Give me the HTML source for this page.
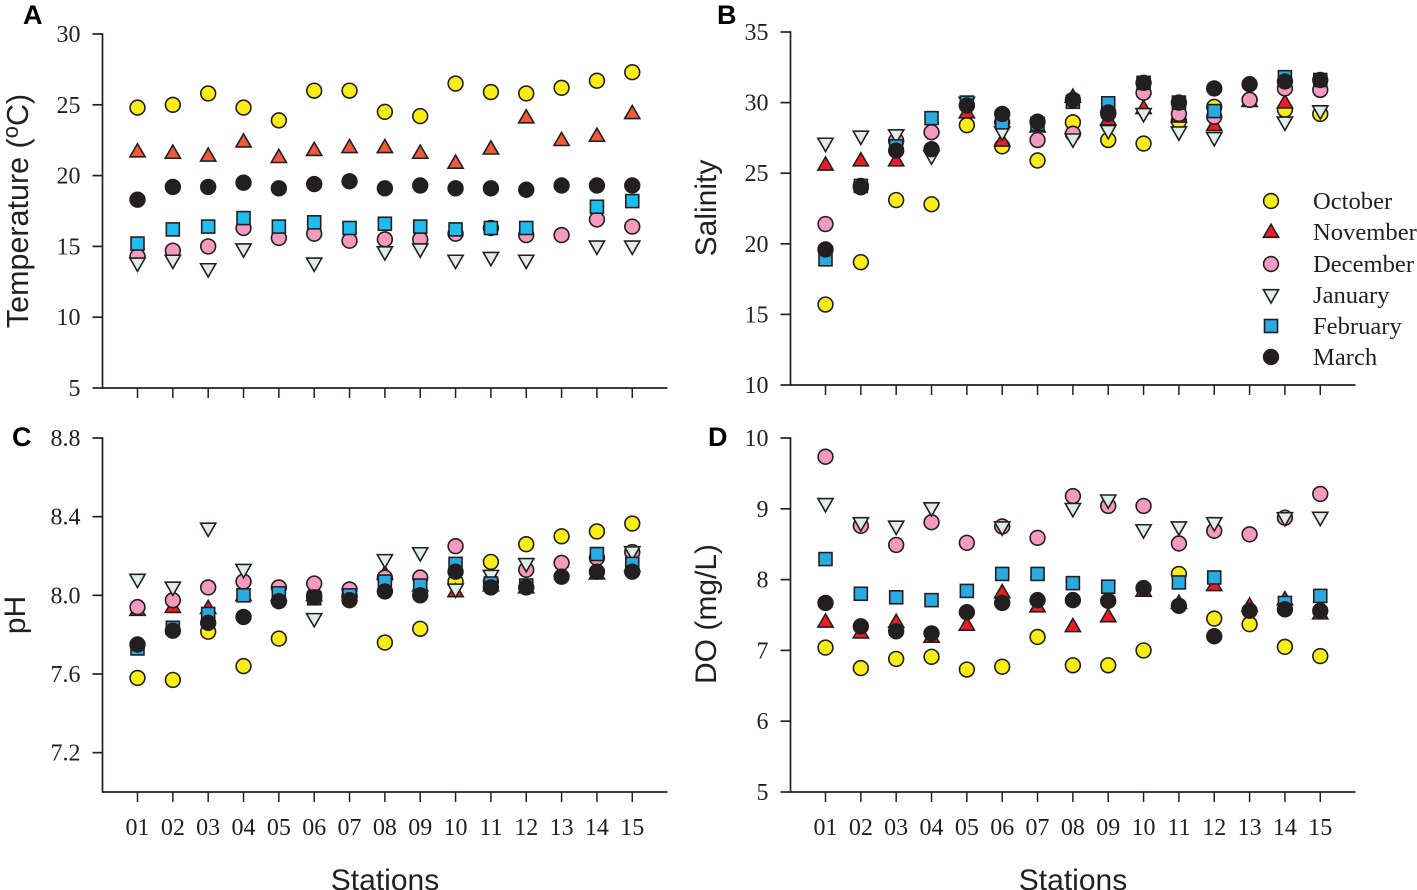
<!DOCTYPE html>
<html lang="en">
<head>
<meta charset="utf-8">
<title>Monthly water quality by station</title>
<style>
html,body{margin:0;padding:0;background:#fff;}
body{width:1417px;height:890px;overflow:hidden;}
svg{display:block;}
.serif{font-family:"Liberation Serif",serif;fill:#231f20;}
.sans{font-family:"Liberation Sans",sans-serif;fill:#231f20;}
.title{font-size:30px;}
.letter{font-size:27px;font-weight:bold;fill:#000;}
.legend-text{font-size:24.6px;}
</style>
</head>
<body>
<svg id="chart" xmlns="http://www.w3.org/2000/svg" width="1417" height="890" viewBox="0 0 1417 890">
  <text class="sans letter" x="23" y="24">A</text>
  <text class="sans letter" x="717" y="24">B</text>
  <text class="sans letter" x="12" y="446">C</text>
  <text class="sans letter" x="708" y="446">D</text>

  <text class="sans title" style="font-size:30.5px" text-anchor="middle" transform="translate(28,211) rotate(-90)">Temperature (<tspan font-size="22" dy="-10">o</tspan><tspan dy="10">C)</tspan></text>
  <text class="sans title" text-anchor="middle" transform="translate(716,208) rotate(-90)">Salinity</text>
  <text class="sans title" text-anchor="middle" transform="translate(25,615) rotate(-90)">pH</text>
  <text class="sans title" text-anchor="middle" transform="translate(716,614) rotate(-90)">DO (mg/L)</text>

  <text class="sans title" text-anchor="middle" x="385" y="890">Stations</text>
  <text class="sans title" text-anchor="middle" x="1073" y="890">Stations</text>

  <g id="panels"></g>

  <g id="legend">
    <text class="serif legend-text" x="1313" y="209">October</text>
    <text class="serif legend-text" x="1313" y="240">November</text>
    <text class="serif legend-text" x="1313" y="272">December</text>
    <text class="serif legend-text" x="1313" y="303">January</text>
    <text class="serif legend-text" x="1313" y="334">February</text>
    <text class="serif legend-text" x="1313" y="365">March</text>
  </g>
</svg>
<script>
const stations = ['01','02','03','04','05','06','07','08','09','10','11','12','13','14','15'];
const months = ['october','november','december','january','february','march'];

const tempTicks = [5,10,15,20,25,30];
const salinityTicks = [10,15,20,25,30,35];
const phTicks = ['7.2','7.6','8.0','8.4','8.8'];
const doTicks = [5,6,7,8,9,10];

const tempOctober  = [24.8,25.0,25.8,24.8,23.9,26.0,26.0,24.5,24.2,26.5,25.9,25.8,26.2,26.7,27.3];
const tempNovember = [21.7,21.6,21.4,22.4,21.3,21.8,22.0,22.0,21.6,20.9,21.9,24.1,22.5,22.8,24.4];
const tempDecember = [14.3,14.7,15.0,16.3,15.6,15.9,15.4,15.5,15.5,15.9,16.3,15.8,15.8,16.9,16.4];
const tempJanuary  = [13.8,14.0,13.4,14.8,null,13.8,null,14.6,14.8,14.0,14.2,14.0,null,15.0,15.0];
const tempFebruary = [15.2,16.2,16.4,17.0,16.4,16.7,16.3,16.6,16.4,16.2,16.3,16.3,null,17.8,18.2];
const tempMarch    = [18.3,19.2,19.2,19.5,19.1,19.4,19.6,19.1,19.3,19.1,19.1,19.0,19.3,19.3,19.3];

const salOctober  = [15.7,18.7,23.1,22.8,28.4,26.9,25.9,28.6,27.35,27.1,28.7,29.7,30.2,29.5,29.2];
const salNovember = [25.6,25.9,25.9,null,29.3,27.3,28.3,30.4,28.8,29.6,29.0,28.4,30.1,30.0,null];
const salDecember = [21.4,24.1,27.3,27.9,29.8,28.6,27.35,27.8,29.2,30.7,29.2,29.0,30.2,31.0,30.9];
const salJanuary  = [27.1,27.6,27.7,26.2,30.0,27.9,null,27.4,28.0,29.2,27.9,27.5,null,28.6,29.4];
const salFebruary = [18.9,24.1,26.9,28.9,30.0,28.6,28.5,30.06,29.95,31.4,30.0,29.4,null,31.8,31.6];
const salMarch    = [19.6,24.0,26.6,26.7,29.8,29.2,28.65,30.2,29.3,31.4,30.0,31.0,31.3,31.5,31.6];

const phOctober  = [7.58,7.57,7.815,7.64,7.78,8.0,8.0,7.76,7.83,8.07,8.17,8.26,8.30,8.325,8.365];
const phNovember = [7.925,7.94,7.935,8.0,8.0,8.0,8.02,8.11,8.05,8.02,8.05,8.04,null,8.11,8.15];
const phDecember = [7.94,7.975,8.04,8.07,8.04,8.06,8.03,8.09,8.09,8.25,8.07,8.13,8.165,8.19,8.22];
const phJanuary  = [8.08,8.04,8.34,8.13,null,7.88,null,8.18,8.215,8.03,8.10,8.16,null,null,8.22];
const phFebruary = [7.73,7.835,7.905,8.0,8.01,7.985,8.0,8.07,8.05,8.16,8.06,8.05,null,8.21,8.16];
const phMarch    = [7.75,7.82,7.86,7.89,7.97,7.99,7.975,8.02,8.0,8.12,8.04,8.04,8.095,8.12,8.12];

const doOctober  = [7.04,6.75,6.88,6.91,6.73,6.77,7.19,6.79,6.79,7.0,8.08,7.45,7.37,7.05,6.92];
const doNovember = [7.405,7.25,7.4,7.19,7.36,7.82,7.62,7.34,7.48,7.84,7.67,7.92,7.63,7.72,7.52];
const doDecember = [9.735,8.76,8.49,8.81,8.52,8.75,8.59,9.18,9.04,9.04,8.51,8.69,8.64,8.875,9.21];
const doJanuary  = [9.07,8.8,8.75,9.01,null,8.74,null,9.0,9.12,8.7,8.74,8.8,null,8.87,8.875];
const doFebruary = [8.29,7.8,7.75,7.71,7.84,8.08,8.08,7.95,7.9,null,7.96,8.03,null,7.67,7.77];
const doMarch    = [7.67,7.34,7.27,7.24,7.54,7.67,7.71,7.71,7.7,7.88,7.63,7.2,7.56,7.58,7.56];

const INK = '#231f20';
const NS = 'http://www.w3.org/2000/svg';

function svgEl(tag, attrs, parent) {
  const el = document.createElementNS(NS, tag);
  for (const k in attrs) el.setAttribute(k, attrs[k]);
  parent.appendChild(el);
  return el;
}

function makeLinear(d0, d1, r0, r1) {
  return function (v) { return r0 + (v - d0) * (r1 - r0) / (d1 - d0); };
}

function drawMarker(month, cx, cy, colour, parent) {
  const base = { fill: colour, stroke: INK, 'stroke-width': 1.6, 'stroke-linejoin': 'miter' };
  let el;
  if (month === 'october' || month === 'december' || month === 'march') {
    el = svgEl('circle', Object.assign({ cx: cx, cy: cy, r: 7.4 }, base), parent);
  } else if (month === 'november') {
    el = svgEl('polygon', Object.assign({ points: [cx, cy - 7.8, cx + 7.6, cy + 5.3, cx - 7.6, cy + 5.3].join(' ') }, base), parent);
  } else if (month === 'january') {
    el = svgEl('polygon', Object.assign({ points: [cx - 7.6, cy - 5.3, cx + 7.6, cy - 5.3, cx, cy + 8].join(' ') }, base), parent);
  } else {
    el = svgEl('rect', Object.assign({ x: cx - 6.5, y: cy - 6.5, width: 13, height: 13 }, base), parent);
  }
  return el;
}

function drawPanel(cfg) {
  const root = document.getElementById('panels');
  const g = svgEl('g', {}, root);
  
  

  const x = makeLinear(0, stations.length - 1, cfg.x0, cfg.x0 + 14 * 35.34);
  const y = makeLinear(cfg.domain[0], cfg.domain[1], cfg.bottom, cfg.bottom - cfg.height);
  const top = y(cfg.yTicks.reduce(function (a, b) { return Math.max(a, +b); }, -Infinity));

  const yAxis = svgEl('line', { x1: cfg.axisX, x2: cfg.axisX, y1: top - 0.8, y2: cfg.bottom + 0.8, stroke: INK, 'stroke-width': 1.7 }, g);
  
  

  const xAxis = svgEl('line', { x1: cfg.axisX, x2: cfg.axisX + 565, y1: cfg.bottom, y2: cfg.bottom, stroke: INK, 'stroke-width': 1.7 }, g);
  
  

  cfg.yTicks.forEach(function (t) {
    const py = y(+t);
    const tick = svgEl('line', { x1: cfg.axisX - 10, x2: cfg.axisX, y1: py, y2: py, stroke: INK, 'stroke-width': 1.7 }, g);
    
    
    const label = svgEl('text', { x: cfg.axisX - 22, y: py + 8, 'text-anchor': 'end', 'font-size': 24, class: 'serif' }, g);
    
    
    label.textContent = t;
  });

  stations.forEach(function (s, i) {
    const tick = svgEl('line', { x1: x(i), x2: x(i), y1: cfg.bottom, y2: cfg.bottom + 10, stroke: INK, 'stroke-width': 1.5 }, g);
    
    
    if (cfg.showStations) {
      const label = svgEl('text', { x: x(i), y: cfg.bottom + 43, 'text-anchor': 'middle', 'font-size': 24, class: 'serif' }, g);
      
      
      label.textContent = s;
    }
  });

  months.forEach(function (m, mi) {
    const sg = svgEl('g', {}, g);
    
    
    cfg.series[mi].forEach(function (v, i) {
      if (v === null) return;
      const mark = drawMarker(m, x(i), y(v), cfg.colours[mi], sg);
      
      
    });
  });
}

const coloursA = ['#f9ed18','#ef5a3a','#f49ac1','#deeee6','#1fbcee','#231f20'];
const coloursB = ['#f9ed18','#ed1c24','#f49ac1','#deeee8','#29aae1','#231f20'];

drawPanel({ key: 'temperature', axisX: 102.5, x0: 137.5, bottom: 388, height: 354, domain: [5, 30], yTicks: tempTicks, showStations: false, colours: coloursA,
  series: [tempOctober, tempNovember, tempDecember, tempJanuary, tempFebruary, tempMarch] });
drawPanel({ key: 'salinity', axisX: 790.5, x0: 825.5, bottom: 385, height: 353, domain: [10, 35], yTicks: salinityTicks, showStations: false, colours: coloursB,
  series: [salOctober, salNovember, salDecember, salJanuary, salFebruary, salMarch] });
drawPanel({ key: 'ph', axisX: 102.5, x0: 137.5, bottom: 792, height: 354, domain: [7.0, 8.8], yTicks: phTicks, showStations: true, colours: coloursB,
  series: [phOctober, phNovember, phDecember, phJanuary, phFebruary, phMarch] });
drawPanel({ key: 'do', axisX: 790.5, x0: 825.5, bottom: 792, height: 354, domain: [5, 10], yTicks: doTicks, showStations: true, colours: coloursB,
  series: [doOctober, doNovember, doDecember, doJanuary, doFebruary, doMarch] });

const legendRows = [201, 232, 264, 295, 326, 357];
const legendRoot = document.getElementById('legend');
months.forEach(function (m, i) {
  const mark = drawMarker(m, 1271, legendRows[i], coloursB[i], legendRoot);
  
  
});
</script>
</body>
</html>
